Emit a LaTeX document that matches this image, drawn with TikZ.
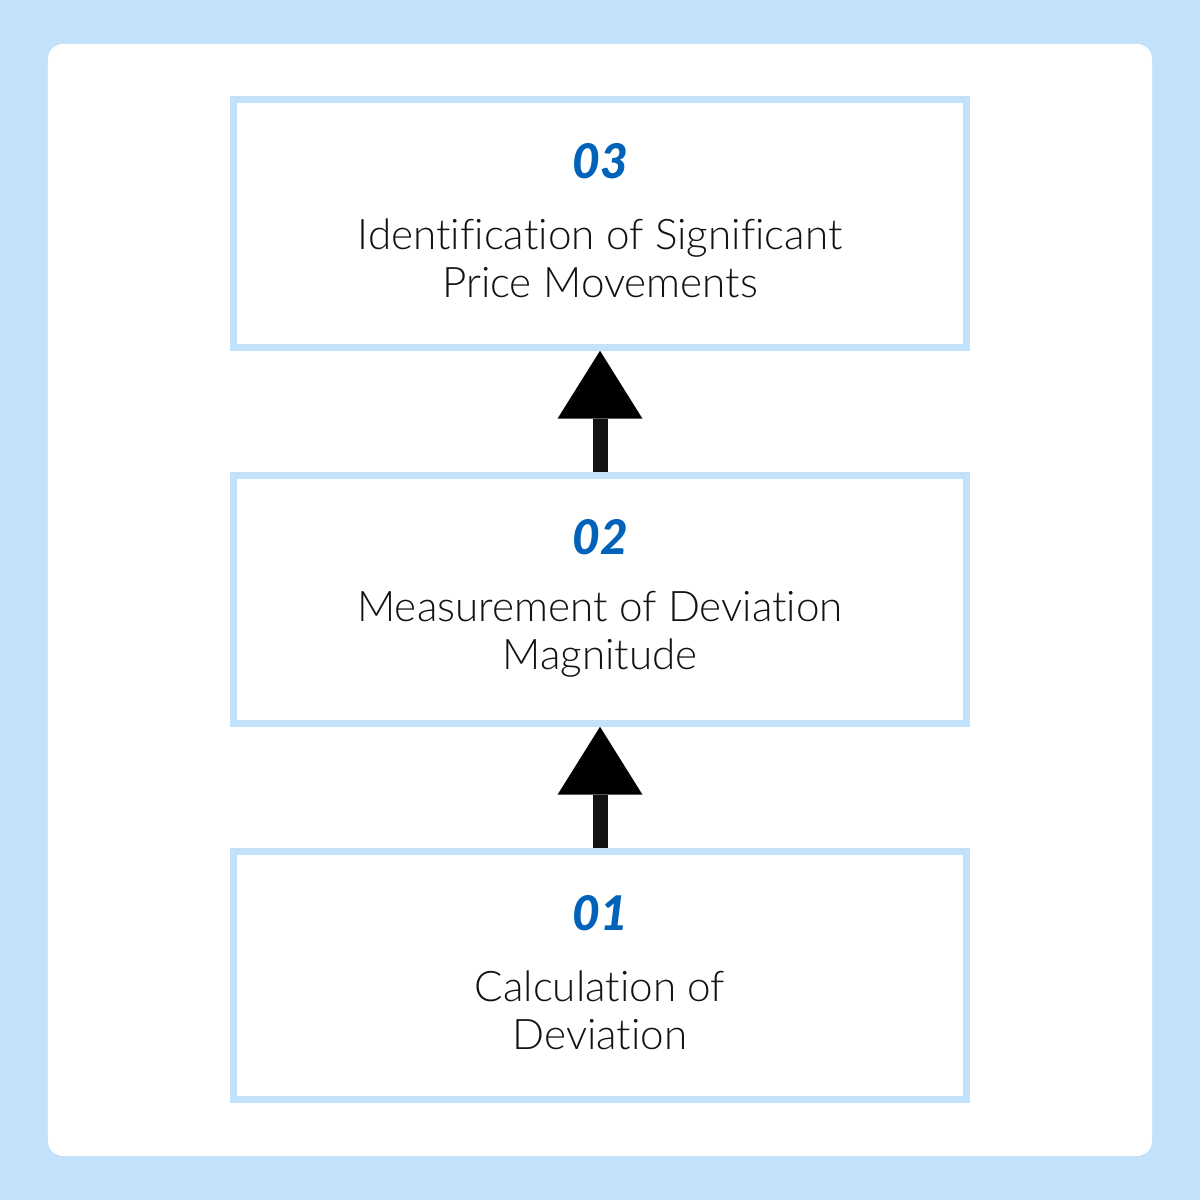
\documentclass[tikz,border=0pt]{standalone}
\usepackage{fontspec}
\setmainfont{Lato}
\IfFontExistsTF{Lato Light}{\newfontfamily\lightfont{Lato Light}[Ligatures=NoCommon]}{\newfontfamily\lightfont{Lato}[Ligatures=NoCommon]}
\IfFontExistsTF{Lato Black Italic}{\newfontfamily\heavyfont{Lato Black Italic}}{\newfontfamily\heavyfont{Lato}[UprightFont={* Bold Italic}]}
\usepackage{xcolor}
\usetikzlibrary{positioning,arrows.meta}

\definecolor{bgblue}{HTML}{C2E2FC}
\definecolor{numblue}{HTML}{0062B8}
\definecolor{ink}{HTML}{121212}

\begin{document}
\begin{tikzpicture}[>={Triangle[width=0.85cm,length=0.68cm,line width=0pt]},
                node distance=1.215cm,
                step node/.style={draw=bgblue,line width=0.065cm,minimum width=7.33cm,
                  minimum height=2.48cm,inner sep=0pt},
                num/.style={font=\heavyfont\fontsize{13.6}{16}\selectfont,text=numblue},
                desc/.style={font=\lightfont\fontsize{12}{13.66}\selectfont,text=ink,align=center}]

  \useasboundingbox (0,0) rectangle (12,12);
  \fill[bgblue] (0,0) rectangle (12,12);
  \fill[white,rounded corners=0.15cm] (0.48,0.44) rectangle (11.52,11.56);

  \node[step node] (3) at (6,9.765) {};
  \node[step node] (2) [below=of 3] {};
  \node[step node] (1) [below=of 2] {};

  \node[num] (n3) at ([yshift=0.625cm]3.center) {03};
  \node[desc] (t3) at ([yshift=-0.35cm]3.center) {Identification of Significant\\Price Movements};
  \node[num] (n2) at ([yshift=0.625cm]2.center) {02};
  \node[desc] (t2) at ([yshift=-0.35cm]2.center) {Measurement of Deviation\\Magnitude};
  \node[num] (n1) at ([yshift=0.625cm]1.center) {01};
  \node[desc] (t1) at ([yshift=-0.35cm]1.center) {Calculation of\\Deviation};

  \path[->,line width=0.15cm,draw=ink]
    (1) edge (2)
    (2) edge (3);
\end{tikzpicture}
\end{document}
